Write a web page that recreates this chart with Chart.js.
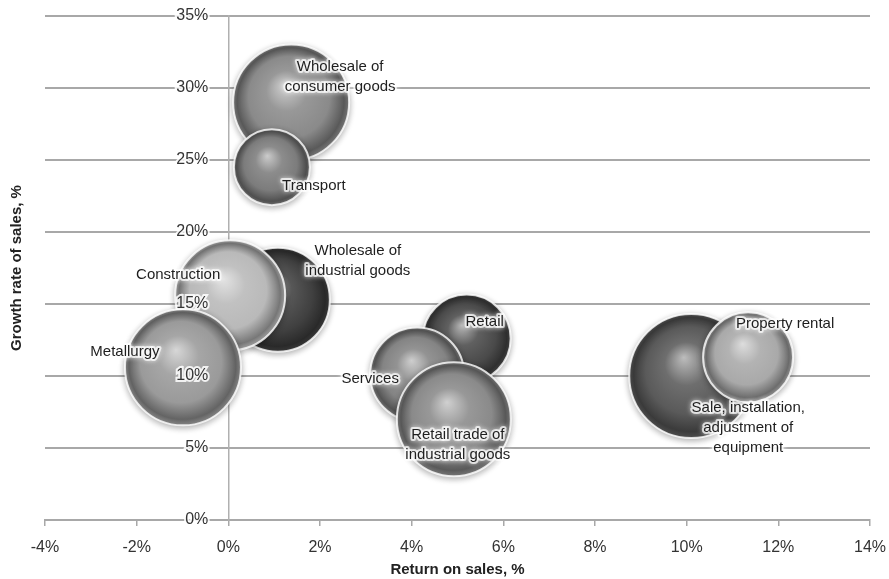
<!DOCTYPE html>
<html>
<head>
<meta charset="utf-8">
<script src="https://cdn.jsdelivr.net/npm/chart.js@4.4.1/dist/chart.umd.min.js"></script>
<style>
    html, body { margin: 0; padding: 0; background: #fff; }
    #wrap { width: 889px; height: 579px; }
</style>
</head>
<body>
<div id="wrap"><canvas id="bubbleChart"></canvas></div>
<script>
// Industries: return on sales (%), sales growth (%), bubble radius (px)
const industries = [
    ['Wholesale of', 'consumer goods'],
    ['Transport'],
    ['Wholesale of', 'industrial goods'],
    ['Construction'],
    ['Metallurgy'],
    ['Retail'],
    ['Services'],
    ['Retail trade of', 'industrial goods'],
    ['Sale, installation,', 'adjustment of', 'equipment'],
    ['Property rental']
];
const returnOnSales = [1.37, 0.95, 1.08, 0.04, -0.99, 5.2, 4.12, 4.92, 10.1, 11.34];
const salesGrowth = [29.0, 24.5, 15.3, 15.6, 10.6, 12.6, 10.1, 7.0, 10.0, 11.3];
const bubbleSize = [58, 38, 52, 55, 58, 44, 47, 57, 62, 45];

const xTickValues = [-4, -2, 0, 2, 4, 6, 8, 10, 12, 14];
const yTickValues = [0, 5, 10, 15, 20, 25, 30, 35];

// Look of each sphere and where its caption sits (px from centre)
const shades = ['#8a8a8a', '#7c7c7c', '#404040', '#b9b9b9', '#9a9a9a',
                '#4a4a4a', '#848484', '#8a8a8a', '#5a5a5a', '#a9a9a9'];
const labelOffsets = [[49, -26], [42, 19], [80, -39], [-52, -21], [-58, -16],
                      [18, -17], [-47, 4], [4, 26], [57, 52], [37, -33]];

const FONT = '"Liberation Sans", Arial, sans-serif';

function shade(hex, f) {
    const n = parseInt(hex.slice(1), 16);
    const t = f < 0 ? 0 : 255, p = Math.abs(f);
    const mix = c => Math.round(c + (t - c) * p);
    return `rgb(${mix(n >> 16)},${mix((n >> 8) & 255)},${mix(n & 255)})`;
}

// radial gradient so every bubble looks like a lit ball
function sphere(ctx) {
    const chart = ctx.chart;
    const i = ctx.dataIndex;
    if (ctx.type !== 'data' || !chart.chartArea) return '#888';
    const base = shades[i];
    const cx = chart.scales.x.getPixelForValue(returnOnSales[i]);
    const cy = chart.scales.y.getPixelForValue(salesGrowth[i]);
    const r = bubbleSize[i];
    const g = chart.ctx.createRadialGradient(cx - r * 0.12, cy - r * 0.3, 0, cx, cy, r);
    g.addColorStop(0, shade(base, 0.6));
    g.addColorStop(0.35, shade(base, 0.12));
    g.addColorStop(0.7, base);
    g.addColorStop(0.92, shade(base, -0.35));
    g.addColorStop(1, shade(base, -0.1));
    return g;
}

const sphereShadow = {
    id: 'sphereShadow',
    beforeDatasetsDraw(chart) {
        const c = chart.ctx;
        c.save();
        c.shadowColor = 'rgba(0,0,0,0.3)';
        c.shadowBlur = 6;
        c.shadowOffsetY = 2;
    },
    afterDatasetsDraw(chart) {
        chart.ctx.restore();
    }
};

const bubbleLabels = {
    id: 'bubbleLabels',
    afterDatasetsDraw(chart) {
        const c = chart.ctx;
        c.save();
        c.font = '15px ' + FONT;
        c.textAlign = 'center';
        c.textBaseline = 'middle';
        c.lineJoin = 'round';
        industries.forEach((lines, i) => {
            const x = chart.scales.x.getPixelForValue(returnOnSales[i]) + labelOffsets[i][0];
            const y0 = chart.scales.y.getPixelForValue(salesGrowth[i]) + labelOffsets[i][1] - (lines.length - 1) * 10;
            lines.forEach((t, k) => {
                const y = y0 + k * 20;
                c.shadowColor = 'rgba(255,255,255,0.9)';
                c.shadowBlur = 5;
                c.strokeStyle = 'rgba(255,255,255,0.7)';
                c.lineWidth = 4;
                c.strokeText(t, x, y);
                c.shadowBlur = 0;
                c.fillStyle = '#1e1e1e';
                c.fillText(t, x, y);
            });
        });
        c.restore();
    }
};

// y tick labels sit just left of the vertical axis at x = 0
const pct = v => v + '%';
const yPct = v => v + '%\u2002\u2002\u2005';

new Chart(document.getElementById('bubbleChart'), {
    type: 'bubble',
    data: {
        datasets: [{
            data: returnOnSales.map((x, i) => ({ x: x, y: salesGrowth[i], r: bubbleSize[i] })),
            backgroundColor: sphere,
            borderColor: 'rgba(255,255,255,0.8)',
            borderWidth: 2,
            hoverRadius: 0
        }]
    },
    options: {
        responsive: true,
        maintainAspectRatio: false,
        animation: false,
        events: [],
        layout: { autoPadding: false, padding: { left: 4, right: 19, top: 16, bottom: 0 } },
        plugins: { legend: { display: false }, tooltip: { enabled: false } },
        scales: {
            x: {
                type: 'linear',
                min: -4, max: 14,
                afterBuildTicks: s => { s.ticks = xTickValues.map(v => ({ value: v })); },
                afterFit: s => { s.height = 59; s.paddingLeft = 0; s.paddingRight = 0; },
                grid: { drawOnChartArea: false, tickLength: 6, color: '#a8a8a8', lineWidth: 1.5 },
                border: { color: '#a8a8a8', width: 2 },
                ticks: { callback: pct, color: '#333', padding: 12, font: { size: 16, family: FONT } },
                title: {
                    display: true, text: 'Return on sales, %', color: '#222',
                    font: { size: 15, weight: 'bold', family: FONT },
                    padding: { top: 4, bottom: 0 }
                }
            },
            y: {
                type: 'linear',
                position: { x: 0 },
                min: 0, max: 35,
                afterBuildTicks: s => { s.ticks = yTickValues.map(v => ({ value: v })); },
                grid: { color: '#a8a8a8', lineWidth: 2, drawTicks: false },
                border: { color: '#b0b0b0', width: 1.5 },
                ticks: {
                    callback: yPct, color: '#333', padding: 0, z: 1,
                    font: { size: 16, family: FONT },
                    textStrokeColor: 'rgba(255,255,255,0.85)', textStrokeWidth: 4
                }
            },
            yTitle: {
                type: 'linear',
                axis: 'y',
                position: 'left',
                min: 0, max: 35,
                grid: { display: false, drawTicks: false },
                border: { display: false },
                ticks: { display: false },
                afterFit: s => { s.width = 41; },
                title: {
                    display: true, text: 'Growth rate of sales, %', color: '#222',
                    font: { size: 15, weight: 'bold', family: FONT },
                    padding: { top: 4, bottom: 4 }
                }
            }
        }
    },
    plugins: [sphereShadow, bubbleLabels]
});
</script>
</body>
</html>
